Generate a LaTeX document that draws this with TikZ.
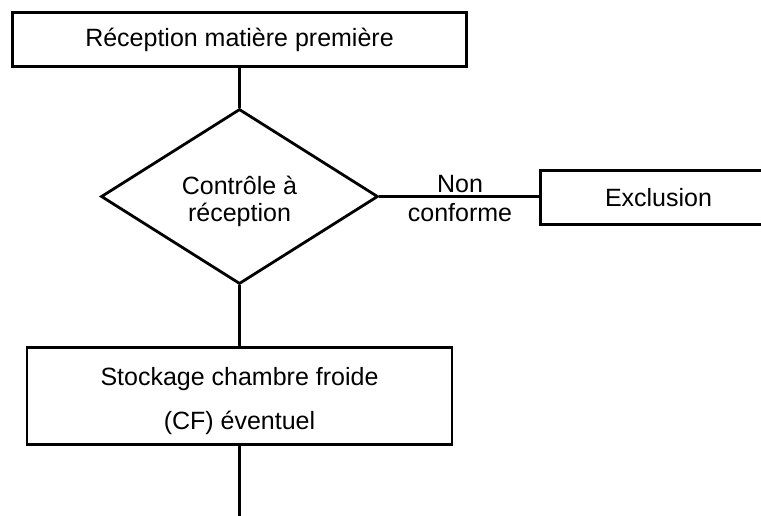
\documentclass[tikz,border=0pt]{standalone}
\usepackage{fontspec}
\setmainfont{Liberation Sans}
\usetikzlibrary{shapes}
\tikzset{etape/.style={draw, rectangle, line width=2.8pt, inner sep=0pt, align=center, font=\fontsize{25}{44}\selectfont}}
\tikzset{test/.style={draw, diamond, line width=2.8pt, inner sep=0pt, align=center, font=\fontsize{25}{27}\selectfont}}
\tikzset{lien/.style={line width=2.8pt}}
\tikzset{etiquette/.style={inner sep=0pt, align=center, font=\fontsize{25}{29}\selectfont}}

\begin{document}
\begin{tikzpicture}[x=1pt,y=-1pt]
    \useasboundingbox (0,0) rectangle (761,515);
    % boxes
    \node[etape, minimum width=454pt, minimum height=54pt] (reception) at (239.5,39.5) {Réception matière première};
    \node[test, minimum width=277pt, minimum height=175pt, text height=54pt, text depth=5pt] (controle) at (239.5,196.5) {Contrôle à\\réception};
    \node[etape, minimum width=236pt, minimum height=54pt] (exclusion) at (658.5,197.5) {Exclusion};
    \node[etape, minimum width=425pt, minimum height=97pt, text height=72pt, text depth=5pt] (stockage) at (239.5,396) {Stockage chambre froide\\(CF) éventuel};
    \coordinate (suite) at (239.5,520);
    % links
    \draw[lien] (reception) -- (controle);
    \draw[lien] (controle) -- (stockage);
    \draw[lien] (controle.east) -- (controle.east -| exclusion.west);
    \node[etiquette] (nonconforme) at (460,199) {Non\\conforme};
    \draw[lien] (stockage) -- (suite);
\end{tikzpicture}
\end{document}
